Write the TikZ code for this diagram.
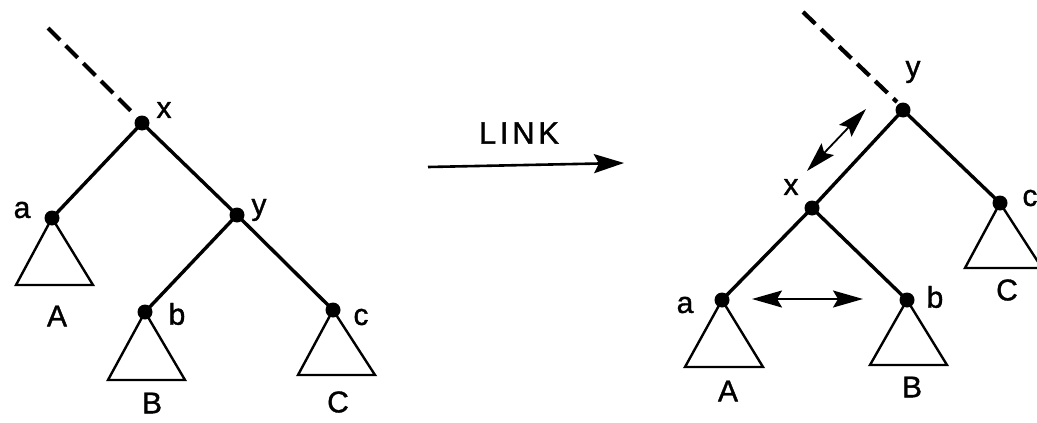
\documentclass[tikz,border=0pt]{standalone}
\usepackage{fontspec}
\setmainfont{Liberation Sans}
\newfontfamily\lblfont{Liberation Sans}[FakeBold=1.2]
\usetikzlibrary{arrows.meta}
\begin{document}
\begin{tikzpicture}[x=1pt,y=-1pt,
  dot/.style={circle,fill=black,inner sep=0pt,minimum size=15pt},
  edge/.style={line width=3.4pt},
  tri/.style={line width=2.4pt,line join=miter},
  dashedge/.style={line width=4.2pt,dash pattern=on 17pt off 8pt},
  lbl/.style={font=\lblfont\fontsize{30}{30}\selectfont,inner sep=0pt},
  linklbl/.style={font=\lblfont\fontsize{31}{31}\selectfont\addfontfeature{LetterSpace=12},inner sep=0pt},
  dbl/.style={line width=1.8pt,{Stealth[length=30pt,width=17pt,inset=5pt]}-{Stealth[length=30pt,width=17pt,inset=5pt]}},
  linkarrow/.style={line width=2.6pt,-{Stealth[length=30pt,width=19pt,inset=5pt]}}
]
\useasboundingbox (0,0) rectangle (1037,423);

% ---------- left tree ----------
\coordinate (Ltop) at (48,28);
\coordinate (Ldash) at (133,113);
\node[dot] (Lx) at (142,123) {};
\node[dot] (La) at (52,218) {};
\node[dot] (Ly) at (237,215) {};
\node[dot] (Lb) at (145,312) {};
\node[dot] (Lc) at (333,310) {};

\draw[dashedge] (Ltop) -- (Ldash);
\draw[edge] (Lx.center) -- (La.center);
\draw[edge] (Lx.center) -- (Ly.center);
\draw[edge] (Ly.center) -- (Lb.center);
\draw[edge] (Ly.center) -- (Lc.center);

\draw[tri] (La.center) -- ++(-36,67) -- ++(77,0) -- cycle;
\draw[tri] (Lb.center) -- ++(-37,68) -- ++(77,0) -- cycle;
\draw[tri] (Lc.center) -- ++(-35,65) -- ++(77,0) -- cycle;

\node[lbl] (Llx) at (164,110) {x};
\node[lbl] (Lla) at (22,210) {a};
\node[lbl] (Lly) at (259,210) {y};
\node[lbl] (Llb) at (177,314) {b};
\node[lbl] (Llc) at (361,317) {c};
\node[lbl] (LlA) at (57,316) {A};
\node[lbl] (LlB) at (152,403) {B};
\node[lbl] (LlC) at (338,402) {C};

% ---------- LINK arrow ----------
\coordinate (Lk1) at (428,167);
\coordinate (Lk2) at (624,163);
\draw[linkarrow] (Lk1) -- (Lk2);
\node[linklbl] (link) at (519,133) {LINK};

% ---------- right tree ----------
\coordinate (Rtop) at (803,12);
\coordinate (Rdash) at (897,102);
\node[dot] (Ry) at (903,110) {};
\node[dot] (Rx) at (812,208) {};
\node[dot] (Rc) at (1000,203) {};
\node[dot] (Ra) at (722,300) {};
\node[dot] (Rb) at (907,300) {};

\draw[dashedge] (Rtop) -- (Rdash);
\draw[edge] (Ry.center) -- (Rx.center);
\draw[edge] (Ry.center) -- (Rc.center);
\draw[edge] (Rx.center) -- (Ra.center);
\draw[edge] (Rx.center) -- (Rb.center);

\draw[tri] (Ra.center) -- ++(-37,67) -- ++(78,0) -- cycle;
\draw[tri] (Rb.center) -- ++(-37,65) -- ++(77,0) -- cycle;
\draw[tri] (Rc.center) -- ++(-35,65) -- ++(77,0) -- cycle;

\node[lbl] (Rly) at (913,72) {y};
\node[lbl] (Rlx) at (791,187) {x};
\node[lbl] (Rlc) at (1030,198) {c};
\node[lbl] (Rla) at (685,305) {a};
\node[lbl] (Rlb) at (935,297) {b};
\node[lbl] (RlA) at (728,391) {A};
\node[lbl] (RlB) at (912,387) {B};
\node[lbl] (RlC) at (1007,290) {C};

% ---------- swap arrows ----------
\coordinate (D1) at (866,109);
\coordinate (D2) at (807,171);
\draw[dbl] (D1) -- (D2);
\coordinate (H1) at (752,299);
\coordinate (H2) at (863,299);
\draw[dbl] (H1) -- (H2);
\end{tikzpicture}
\end{document}
